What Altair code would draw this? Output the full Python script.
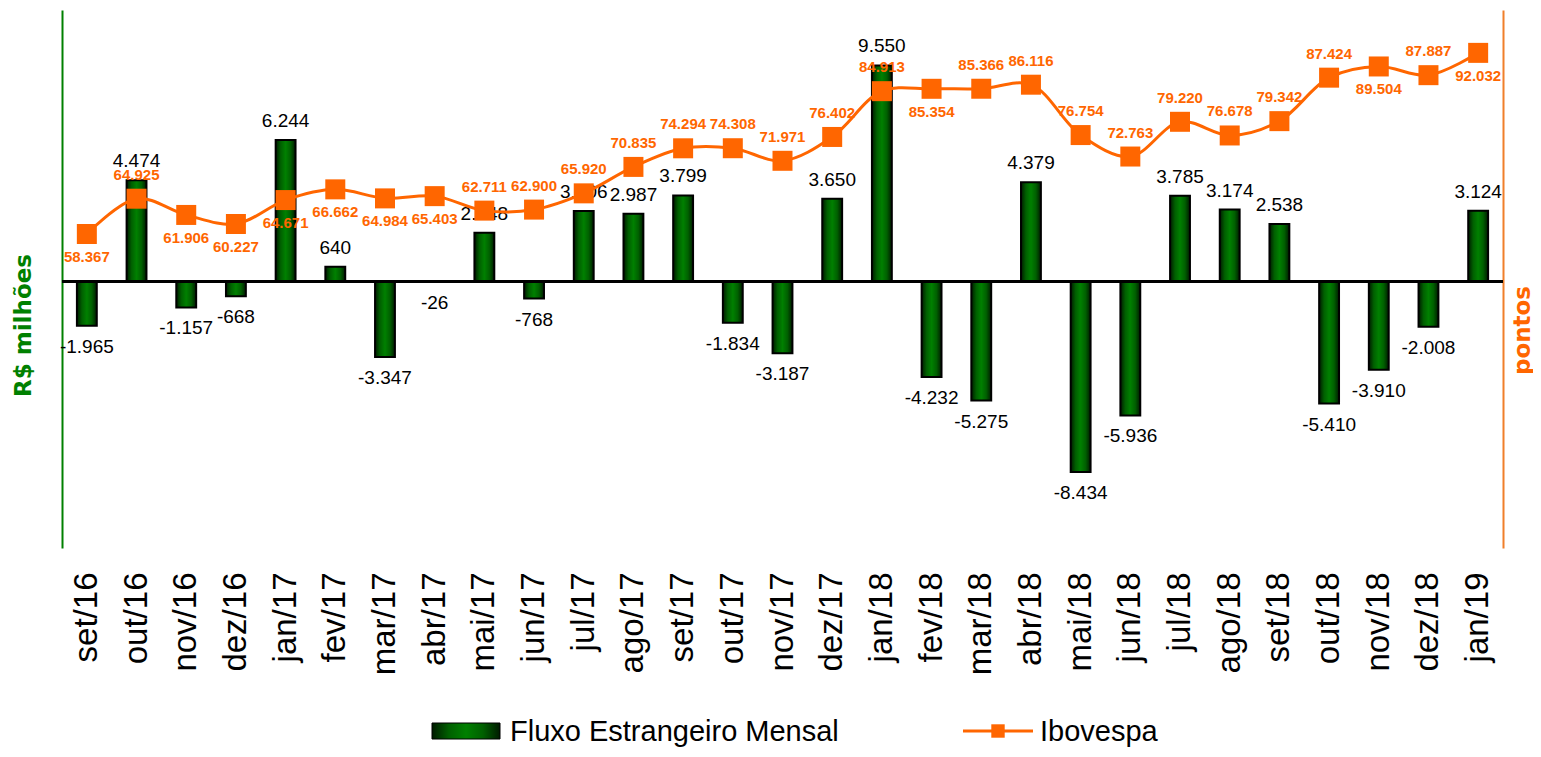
import altair as alt
import pandas as pd

months = ["set/16", "out/16", "nov/16", "dez/16",
          "jan/17", "fev/17", "mar/17", "abr/17", "mai/17", "jun/17",
          "jul/17", "ago/17", "set/17", "out/17", "nov/17", "dez/17",
          "jan/18", "fev/18", "mar/18", "abr/18", "mai/18", "jun/18",
          "jul/18", "ago/18", "set/18", "out/18", "nov/18", "dez/18",
          "jan/19"]

fluxo = [-1965, 4474, -1157, -668,
         6244, 640, -3347, -26, 2148, -768,
         3106, 2987, 3799, -1834, -3187, 3650,
         9550, -4232, -5275, 4379, -8434, -5936,
         3785, 3174, 2538, -5410, -3910, -2008,
         3124]

ibovespa = [58367, 64925, 61906, 60227,
            64671, 66662, 64984, 65403, 62711, 62900,
            65920, 70835, 74294, 74308, 71971, 76402,
            84913, 85354, 85366, 86116, 76754, 72763,
            79220, 76678, 79342, 87424, 89504, 87887,
            92032]

# where each Ibovespa label sits relative to its marker
ibov_label_side = ["below", "above", "below", "below",
                   "below", "below", "below", "below", "above", "above",
                   "above", "above", "above", "above", "above", "above",
                   "above", "below", "above", "above", "above", "above",
                   "above", "above", "above", "above", "below", "above",
                   "below"]


def br(v):
    return f"{v:,}".replace(",", ".")


df = pd.DataFrame({
    "month": months,
    "fluxo": fluxo,
    "ibov": ibovespa,
    "fluxo_label": [br(v) for v in fluxo],
    "ibov_label": [br(v) for v in ibovespa],
    "side": ibov_label_side,
})

GREEN = "#008000"
ORANGE = "#FF6600"
ORANGE_AXIS = "#F07F2A"

bar_gradient = alt.Gradient(
    gradient="linear",
    stops=[
        alt.GradientStop(color="#001a00", offset=0),
        alt.GradientStop(color="#006000", offset=0.25),
        alt.GradientStop(color="#008000", offset=0.5),
        alt.GradientStop(color="#006000", offset=0.75),
        alt.GradientStop(color="#001a00", offset=1),
    ],
    x1=0, x2=1, y1=0, y2=0,
)

x_enc = alt.X(
    "month:N", sort=months,
    scale=alt.Scale(paddingInner=0.6, paddingOuter=0.3),
    axis=alt.Axis(title=None, labelAngle=270, labelAlign="right",
                  labelBaseline="middle", labelFont="Liberation Sans",
                  labelFontSize=33, labelPadding=24, labelColor="black",
                  domain=False, ticks=False, grid=False, labelOverlap=False),
)

y_bar = alt.Y(
    "fluxo:Q",
    scale=alt.Scale(domain=[-11800, 12000], nice=False, zero=False),
    axis=alt.Axis(title="R$ milhões", labels=False, ticks=False, grid=False,
                  domainColor=GREEN, domainWidth=2,
                  titleColor=GREEN, titleFont="DejaVu Sans", titleFontSize=23,
                  titleFontWeight="bold", titleAngle=270, titleX=-39,
                  titleY=315, titleAlign="center", titleBaseline="middle"),
)

y_line = alt.Y(
    "ibov:Q",
    scale=alt.Scale(domain=[0, 100000], nice=False, zero=False),
    axis=alt.Axis(orient="right", title="pontos", labels=False, ticks=False,
                  grid=False, domainColor=ORANGE_AXIS, domainWidth=2,
                  titleColor=ORANGE, titleFont="DejaVu Sans", titleFontSize=23,
                  titleFontWeight="bold", titleAngle=270, titleX=19,
                  titleY=320, titleAlign="center", titleBaseline="middle"),
)

base = alt.Chart(df)

bars = base.mark_bar(color=bar_gradient, stroke="black", strokeWidth=2).encode(
    x=x_enc, y=y_bar)

zero_rule = base.mark_rule(color="black", strokeWidth=2).encode(y=alt.datum(0))

pos_lbl = base.transform_filter("datum.fluxo >= 0").mark_text(
    font="Liberation Sans", fontSize=19, color="black", dy=-19,
    baseline="middle").encode(x=x_enc, y=y_bar, text="fluxo_label:N")

neg_lbl = base.transform_filter("datum.fluxo < 0").mark_text(
    font="Liberation Sans", fontSize=19, color="black", dy=21,
    baseline="middle").encode(x=x_enc, y=y_bar, text="fluxo_label:N")

bar_layer = alt.layer(bars, zero_rule, pos_lbl, neg_lbl)

line = base.mark_line(color=ORANGE, strokeWidth=3, interpolate="catmull-rom").encode(
    x=x_enc, y=y_line)

pts = base.mark_point(shape="square", filled=True, size=400, color=ORANGE,
                      opacity=1).encode(x=x_enc, y=y_line)

ib_above = base.transform_filter("datum.side == 'above'").mark_text(
    font="Liberation Sans", fontSize=15, fontWeight="bold", color=ORANGE,
    dy=-24, baseline="middle").encode(x=x_enc, y=y_line, text="ibov_label:N")

ib_below = base.transform_filter("datum.side == 'below'").mark_text(
    font="Liberation Sans", fontSize=15, fontWeight="bold", color=ORANGE,
    dy=23, baseline="middle").encode(x=x_enc, y=y_line, text="ibov_label:N")

line_layer = alt.layer(line, pts, ib_above, ib_below)

# legend (drawn by hand below the plot area)
one = alt.Chart(alt.Data(values=[{"k": 1}]))

leg_rect = one.mark_rect(color=bar_gradient, stroke="black", strokeWidth=1).encode(
    x=alt.value(370), x2=alt.value(438), y=alt.value(713), y2=alt.value(729))
leg_text1 = one.mark_text(text="Fluxo Estrangeiro Mensal", font="Liberation Sans",
                          fontSize=29, align="left", baseline="alphabetic",
                          color="black").encode(x=alt.value(448), y=alt.value(731))
leg_rule = one.mark_rule(color=ORANGE, strokeWidth=3).encode(
    x=alt.value(901), x2=alt.value(971), y=alt.value(721))
leg_sq = one.mark_point(shape="square", filled=True, size=180, color=ORANGE,
                        opacity=1).encode(x=alt.value(936), y=alt.value(721))
leg_text2 = one.mark_text(text="Ibovespa", font="Liberation Sans", fontSize=29,
                          align="left", baseline="alphabetic",
                          color="black").encode(x=alt.value(978), y=alt.value(731))

chart = alt.layer(
    bar_layer, line_layer, leg_rect, leg_text1, leg_rule, leg_sq, leg_text2
).resolve_scale(y="independent").properties(
    width=1441, height=538,
    autosize=alt.AutoSizeParams(type="none"),
    padding={"left": 54, "top": 2, "right": 30, "bottom": 199},
).configure_view(stroke=None)

chart.save("out.html", embed_options={"renderer": "svg", "actions": False})
